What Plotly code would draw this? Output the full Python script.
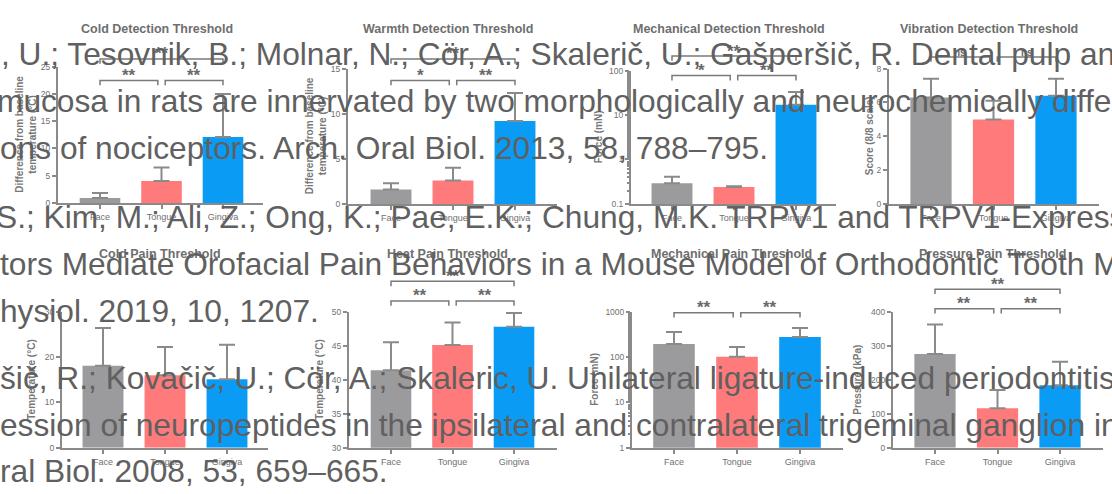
import plotly.graph_objects as go

W, H = 1112, 494

# ---------------- data ----------------
categories = ["Face", "Tongue", "Gingiva"]
bar_colors = ["#9b9b9d", "#ff7b7b", "#0a9cf5"]

titles = ["Cold Detection Threshold", "Warmth Detection Threshold",
          "Mechanical Detection Threshold", "Vibration Detection Threshold",
          "Cold Pain Threshold", "Heat Pain Threshold",
          "Mechanical Pain Threshold", "Pressure Pain Threshold"]
ylabels = ["Difference from baseline<br>temperature (°C)",
           "Difference from baseline<br>temperature (°C)",
           "Force (mN)", "Score (8/8 scale)",
           "Temperature (°C)", "Temperature (°C)",
           "Force (mN)", "Pressure (kPa)"]

cold_det_mean = [0.9, 4.0, 12.1]
cold_det_sem = [0.9, 2.5, 7.9]
warm_det_mean = [1.6, 2.6, 9.2]
warm_det_sem = [0.7, 1.4, 3.1]
mech_det_mean = [0.29, 0.24, 17.0]
mech_det_sem = [0.12, 0.01, 16.0]
vib_det_mean = [6.3, 5.0, 6.4]
vib_det_sem = [1.1, 1.1, 1.0]
cold_pain_mean = [18.1, 16.0, 15.1]
cold_pain_sem = [8.3, 6.2, 7.6]
heat_pain_mean = [41.4, 45.1, 47.8]
heat_pain_sem = [4.1, 3.3, 2.0]
mech_pain_mean = [195, 102, 275]
mech_pain_sem = [160, 64, 160]
press_pain_mean = [276, 116, 184]
press_pain_sem = [86, 54, 69]

means = [cold_det_mean, warm_det_mean, mech_det_mean, vib_det_mean,
         cold_pain_mean, heat_pain_mean, mech_pain_mean, press_pain_mean]
sems = [cold_det_sem, warm_det_sem, mech_det_sem, vib_det_sem,
        cold_pain_sem, heat_pain_sem, mech_pain_sem, press_pain_sem]

# y axis scales
y_types = ["linear", "linear", "log", "linear", "linear", "linear", "log", "linear"]
y_ranges = [[0, 25], [0, 15], [-1, 2], [0, 8], [0, 30], [30, 50], [0, 3], [0, 400]]
y_ticks = [[0, 5, 10, 15, 20, 25], [0, 5, 10, 15], [0.1, 1, 10, 100], [0, 2, 4, 6, 8],
           [0, 10, 20, 30], [30, 35, 40, 45, 50], [1, 10, 100, 1000], [0, 100, 200, 300, 400]]
y_ticktext = [["0", "5", "10", "15", "20", "25"], ["0", "5", "10", "15"],
              ["0.1", "1", "10", "100"], ["0", "2", "4", "6", "8"],
              ["0", "10", "20", "30"], ["30", "35", "40", "45", "50"],
              ["1", "10", "100", "1000"], ["0", "100", "200", "300", "400"]]

# significance comparisons per panel: (i, j, label)
comparisons = [
    [(0, 1, "**"), (1, 2, "**"), (0, 2, "**")],
    [(0, 1, "*"), (1, 2, "**"), (0, 2, "**")],
    [(0, 1, "*"), (1, 2, "**"), (0, 2, "**")],
    [(0, 1, "ns"), (1, 2, "ns")],
    [],
    [(0, 1, "**"), (1, 2, "**"), (0, 2, "**")],
    [(0, 1, "**"), (1, 2, "**")],
    [(0, 1, "**"), (1, 2, "**"), (0, 2, "**")],
]

ref_lines = [
    ", U.; Tesovnik, B.; Molnar, N.; Cör, A.; Skalerič, U.; Gašperšič, R. Dental pulp and",
    "mucosa in rats are innervated by two morphologically and neurochemically different",
    "ons of nociceptors. Arch. Oral Biol. 2013, 58, 788–795.",
    "S.; Kim, M.; Ali, Z.; Ong, K.; Pae, E.K.; Chung, M.K. TRPV1 and TRPV1-Expressing",
    "tors Mediate Orofacial Pain Behaviors in a Mouse Model of Orthodontic Tooth Movement",
    "hysiol. 2019, 10, 1207.",
    "šič, R.; Kovačič, U.; Cör, A.; Skaleric, U. Unilateral ligature-induced periodontitis",
    "ession of neuropeptides in the ipsilateral and contralateral trigeminal ganglion in",
    "ral Biol. 2008, 53, 659–665.",
]

# ---------------- layout (pixels) ----------------
panels_px = [
    dict(xa=58, xb=263, c0=100, s=61.5, yt=63, yb=202),
    dict(xa=348, xb=557, c0=391, s=62, yt=65, yb=203),
    dict(xa=631, xb=836, c0=672, s=62, yt=67, yb=203),
    dict(xa=889, xb=1099, c0=931, s=62.5, yt=65, yb=203),
    dict(xa=62, xb=268, c0=103, s=62, yt=313, yb=452),
    dict(xa=349, xb=557, c0=391, s=61.5, yt=313, yb=452),
    dict(xa=632, xb=843, c0=674, s=63, yt=313, yb=452),
    dict(xa=893, xb=1103, c0=935, s=62.5, yt=313, yb=452),
]
bracket_px = [(77, 55), (77, 55), (72, 52), (53, 53), (0, 0), (302, 282), (314, 0), (310, 290)]
title_px_y = [24, 24, 24, 24, 254, 254, 254, 254]
ylabel_px_x = [26, 316, 598, 869, 32, 320, 595, 858]
ref_x_px = [-1, -5, -2, -6, -2, -2, -2, -2, -2]
ref_baseline_px = [61, 109, 157, 227, 275, 323, 392, 440, 487]
REF_SIZE = 31.7

AX = "#8a8a8a"
TXT = "#707070"
FONT = "Liberation Sans, Arial, sans-serif"

fig = go.Figure()
shapes = []
annotations = []


def py(p):
    return 1 - p / H


for k in range(8):
    n = k + 1
    sfx = "" if n == 1 else str(n)
    xa, ya = "x" + sfx, "y" + sfx
    L = panels_px[k]
    fig.add_trace(go.Bar(
        x=[0, 1, 2], y=means[k], width=0.66,
        marker=dict(color=bar_colors, line=dict(width=0)),
        error_y=dict(type="data", symmetric=False, array=sems[k], arrayminus=[0, 0, 0],
                     color=AX, thickness=2, width=8),
        xaxis=xa, yaxis=ya, showlegend=False, hoverinfo="skip",
    ))
    xr = [(L["xa"] - L["c0"]) / L["s"], (L["xb"] - L["c0"]) / L["s"]]
    fig.layout["xaxis" + sfx] = dict(
        domain=[L["xa"] / W, L["xb"] / W], range=xr, anchor=ya,
        tickvals=[0, 1, 2], ticktext=categories, ticks="outside", ticklen=4,
        tickwidth=1.5, tickcolor=AX, showline=True, linecolor=AX, linewidth=2,
        showgrid=False, zeroline=False, fixedrange=True,
        tickfont=dict(family=FONT, size=9, color=TXT),
    )
    ydict = dict(
        domain=[py(L["yb"]), py(L["yt"])], range=y_ranges[k], type=y_types[k], anchor=xa,
        tickvals=y_ticks[k], ticktext=y_ticktext[k], ticks="outside", ticklen=4,
        tickwidth=1.5, tickcolor=AX, showline=True, linecolor=AX, linewidth=2,
        showgrid=False, zeroline=False, fixedrange=True,
        tickfont=dict(family=FONT, size=8.5, color=TXT),
    )
    if y_types[k] == "log":
        ydict["minor"] = dict(ticks="outside", ticklen=2, tickcolor=AX, showgrid=False)
    fig.layout["yaxis" + sfx] = ydict

    annotations.append(dict(
        text="<b>" + titles[k] + "</b>", xref=xa, yref="paper", x=0.92, y=py(title_px_y[k]),
        xanchor="center", yanchor="middle", showarrow=False,
        font=dict(family=FONT, size=12.5, color="#6e6e6e")))
    annotations.append(dict(
        text="<b>" + ylabels[k] + "</b>", xref="paper", yref=ya + " domain",
        x=ylabel_px_x[k] / W, y=0.5, textangle=-90, xanchor="center", yanchor="middle",
        showarrow=False, font=dict(family=FONT, size=10, color="#777777")))

    for (i, j, lab) in comparisons[k]:
        level = bracket_px[k][0] if j - i == 1 else bracket_px[k][1]
        x1 = i + (0.06 if (i == 1) else 0)
        x2 = j - (0.06 if (j == 1) else 0)
        yl, yleg = py(level), py(level + 5)
        shapes.append(dict(type="path", xref=xa, yref="paper",
                           path=f"M {x1},{yleg} L {x1},{yl} L {x2},{yl} L {x2},{yleg}",
                           line=dict(color="#7a7a7a", width=1.5)))
        annotations.append(dict(
            text="<b>" + lab + "</b>", xref=xa, yref="paper", x=(x1 + x2) / 2, y=py(level - 5),
            xanchor="center", yanchor="middle", showarrow=False,
            font=dict(family=FONT, size=17 if lab != "ns" else 10, color="#6a6a6a")))

for t, xp, bp in zip(ref_lines, ref_x_px, ref_baseline_px):
    annotations.append(dict(
        text=t, xref="paper", yref="paper", x=xp / W, y=py(bp - 0.345 * REF_SIZE),
        xanchor="left", yanchor="middle", showarrow=False,
        font=dict(family=FONT, size=REF_SIZE, color="#606060")))

fig.update_layout(
    width=W, height=H, margin=dict(l=0, r=0, t=0, b=0),
    paper_bgcolor="white", plot_bgcolor="white",
    showlegend=False, shapes=shapes, annotations=annotations,
)

fig.write_html("out.html", config={"displayModeBar": False},
               post_script="document.body.style.margin='0px';")
